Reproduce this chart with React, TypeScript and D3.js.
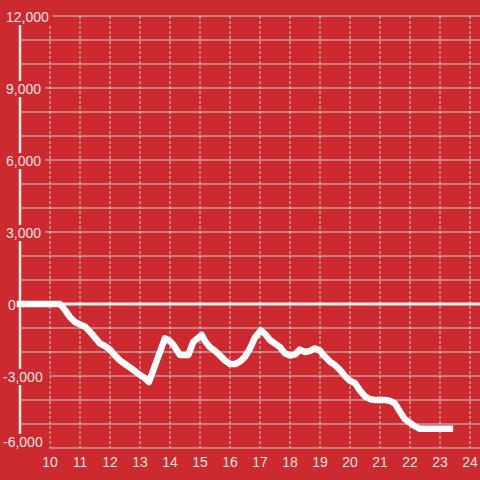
import React from "react";
import * as d3 from "d3";

const hours = [
  9, 10.33, 10.5, 10.67, 10.83, 11, 11.17, 11.33, 11.5, 11.67, 11.83, 12, 12.17, 12.33, 12.5, 12.67, 12.83,
  13, 13.17, 13.3, 13.83, 14.0, 14.11, 14.33, 14.61, 14.78, 15.06, 15.17, 15.33, 15.5,
  15.67, 15.83, 16, 16.17, 16.33, 16.5, 16.67, 16.83, 17.03, 17.17, 17.33, 17.5, 17.67, 17.83, 18, 18.17,
  18.33, 18.5, 18.67, 18.83, 19, 19.17, 19.33, 19.5, 19.67, 19.83, 20, 20.17, 20.33, 20.5, 20.67, 20.83,
  21, 21.17, 21.33, 21.5, 21.67, 21.83, 22, 22.17, 22.33, 23.33,
];
const values = [
  0, 0, -250, -550, -750, -850, -950, -1150, -1400, -1650, -1750, -1900, -2150, -2350, -2500, -2650, -2800,
  -2950, -3100, -3250, -1430, -1550, -1700, -2125, -2125, -1570, -1290, -1550, -1800, -1950,
  -2150, -2350, -2500, -2500, -2400, -2200, -1850, -1400, -1100, -1250, -1500, -1650, -1800, -2050, -2150, -2100,
  -1900, -2000, -1950, -1850, -1950, -2200, -2400, -2550, -2750, -3000, -3200, -3300, -3600, -3850, -3970, -4000,
  -4000, -4000, -4030, -4150, -4500, -4800, -4950, -5100, -5200, -5200,
];
const xTicks = [10, 11, 12, 13, 14, 15, 16, 17, 18, 19, 20, 21, 22, 23, 24];
const yGrid = [-6000, -5000, -4000, -3000, -2000, -1000, 0, 1000, 2000, 3000, 4000, 5000, 6000, 7000, 8000, 9000, 10000, 11000, 12000];
const yLabels = [12000, 9000, 6000, 3000, 0, -3000, -6000];

const W = 480;
const H = 480;
const BG = "#cc2a2f";
const GRID = "#cfcfcf";
const TEXT = "#f4e2e2";

export default function App() {
  const x = d3.scaleLinear().domain([9, 24.333]).range([20, 480]);
  const y = d3.scaleLinear().domain([-6000, 12000]).range([448, 16]);
  const fmt = d3.format(",");
  const pts: [number, number][] = hours.map((h, i) => [h, values[i]]);
  const line = d3
    .line<[number, number]>()
    .x((d) => x(d[0]))
    .y((d) => y(d[1]))
    .curve(d3.curveLinear);

  return (
    <svg
      width={W}
      height={H}
      style={{ position: "absolute", left: 0, top: 0, fontFamily: "'Liberation Sans', Arial, sans-serif" }}
    >
      <rect x={0} y={0} width={W} height={H} fill={BG} />
      {yGrid.map((v) => (
        <line key={"g" + v} x1={x(9)} x2={W} y1={y(v)} y2={y(v)} stroke={GRID} strokeWidth={1} />
      ))}
      {xTicks.map((t) => (
        <line
          key={"v" + t}
          x1={x(t)}
          x2={x(t)}
          y1={y(12000)}
          y2={y(-6000)}
          stroke={GRID}
          strokeWidth={1}
          strokeDasharray="3,2"
        />
      ))}
      <line x1={x(9)} x2={x(9)} y1={y(12000)} y2={y(-6000)} stroke="#eeeeee" strokeWidth={2.5} />
      <line x1={x(9)} x2={W} y1={y(0)} y2={y(0)} stroke="#f4f4f4" strokeWidth={3} />
      {yLabels.map((v) => {
        const label = fmt(v).replace("−", "-");
        const tx = v > 0 ? 6 : v === 0 ? 8 : 3;
        const cy = y(v) + (v === -6000 ? -6 : 1);
        const w = label.length * 7.4;
        return (
          <g key={"l" + v}>
            <rect x={tx - 2} y={cy - 8} width={w + 4} height={16} fill={BG} />
            <text x={tx} y={cy + 5} fill={TEXT} fontSize={14}>
              {label}
            </text>
          </g>
        );
      })}
      <path
        d={line(pts) || ""}
        fill="none"
        stroke="#ffffff"
        strokeWidth={6.5}
        strokeLinejoin="round"
        strokeLinecap="square"
      />
      {xTicks.map((t) => (
        <text key={"t" + t} x={x(t)} y={467} textAnchor="middle" fill={TEXT} fontSize={14}>
          {t}
        </text>
      ))}
    </svg>
  );
}
